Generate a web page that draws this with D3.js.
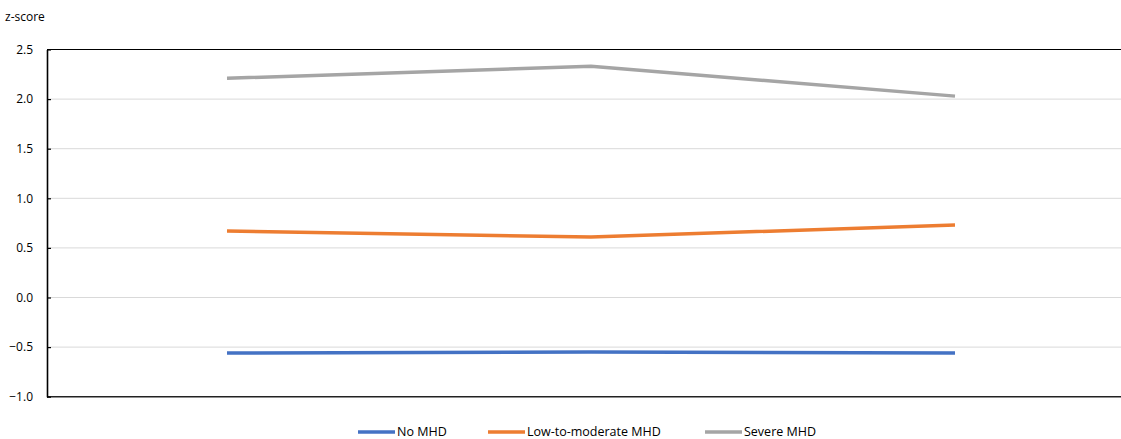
<!DOCTYPE html>
<html><head><meta charset="utf-8">
<script src="https://cdn.jsdelivr.net/npm/d3@7"></script>
<style>body{margin:0;background:#fff}svg{display:block}text{font-family:"Open Sans","Liberation Sans",sans-serif;}</style>
</head><body><svg id="c" width="1121" height="439"></svg>
<script>
const categories = ["A", "B", "C"];
const seriesNames = ["No MHD", "Low-to-moderate MHD", "Severe MHD"];
const noMHD = [-0.56, -0.55, -0.56];
const lowModMHD = [0.67, 0.61, 0.73];
const severeMHD = [2.21, 2.33, 2.03];
const yTicks = [-1.0, -0.5, 0.0, 0.5, 1.0, 1.5, 2.0, 2.5];
const colors = ["#4472C4", "#ED7D31", "#A5A5A5"];

const svg = d3.select("#c");
const L = 47, T = 49.5, B = 396.7;
const x = d3.scaleBand().domain(categories).range([45, 1137]);
const y = d3.scaleLinear().domain([-1, 2.5]).range([B, T]);

// gridlines
svg.append("g").selectAll("line").data(yTicks.filter(d => d > -1 && d < 2.5)).join("line")
  .attr("x1", L).attr("x2", 1121).attr("y1", d => y(d)).attr("y2", d => y(d))
  .attr("stroke", "#d9d9d9").attr("stroke-width", 1);

// top and bottom border
svg.append("line").attr("x1", L).attr("x2", 1121).attr("y1", T).attr("y2", T).attr("stroke", "#000").attr("stroke-width", 1.2);
svg.append("line").attr("x1", L).attr("x2", 1121).attr("y1", B).attr("y2", B).attr("stroke", "#222").attr("stroke-width", 1.5);

// y axis
const yAxis = d3.axisLeft(y).tickValues(yTicks).tickFormat(d3.format(".1f")).tickSizeInner(-4).tickSizeOuter(0).tickPadding(14);
const ga = svg.append("g").attr("transform", `translate(${L},0)`).call(yAxis);
ga.select(".domain").attr("stroke", "#000").attr("stroke-width", 1.6);
ga.selectAll(".tick line").attr("stroke", "#000").attr("stroke-width", 1.2);
ga.selectAll(".tick text").attr("font-size", 12).attr("fill", "#000");

svg.append("text").attr("x", 5).attr("y", 21).attr("font-size", 12).attr("fill", "#000").text("z-score");

const allSeries = [noMHD, lowModMHD, severeMHD];
const line = d3.line().x((d, i) => x(categories[i]) + x.bandwidth() / 2).y(d => y(d));
svg.append("g").selectAll("path").data(allSeries).join("path")
  .attr("d", d => line(d)).attr("fill", "none")
  .attr("stroke", (d, i) => colors[i]).attr("stroke-width", 3.5);

// legend
const legX = [358, 488, 705];
const lg = svg.append("g").selectAll("g").data(seriesNames).join("g")
  .attr("transform", (d, i) => `translate(${legX[i]},432)`);
lg.append("line").attr("x1", 0).attr("x2", 37).attr("y1", 0).attr("y2", 0)
  .attr("stroke", (d, i) => colors[i]).attr("stroke-width", 3.5);
lg.append("text").attr("x", 39).attr("y", 0).attr("dy", "0.35em").attr("font-size", 12.5).attr("fill", "#000").text(d => d);
</script></body></html>
